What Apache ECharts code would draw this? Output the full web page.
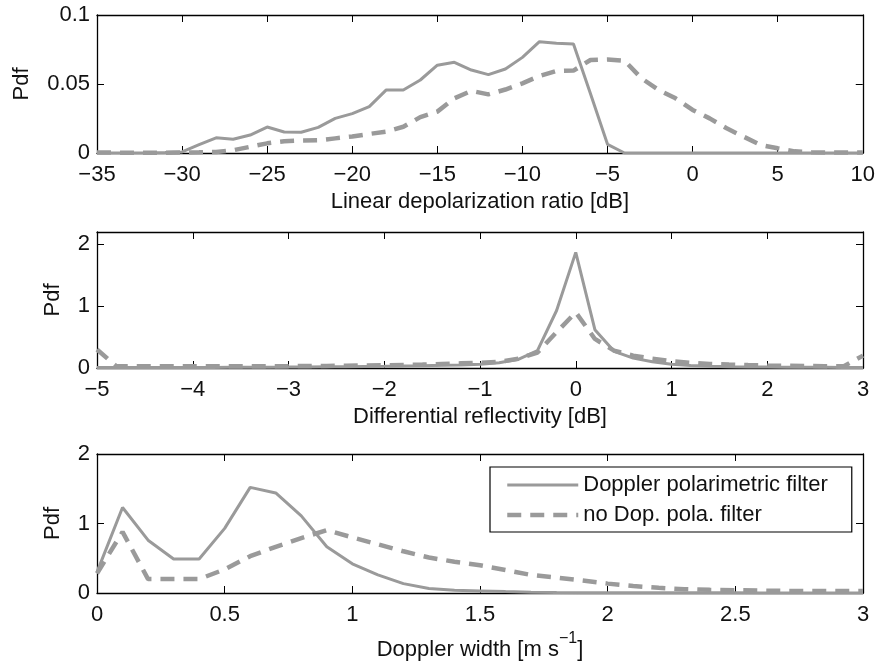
<!DOCTYPE html>
<html>
<head>
<meta charset="utf-8">
<script src="https://cdn.jsdelivr.net/npm/echarts@6/dist/echarts.min.js"></script>
<style>html,body{margin:0;padding:0;background:#fff}#c{width:878px;height:663px}</style>
</head>
<body>
<div id="c"></div>
<script>
// ---------- Data ----------
const seriesNames = ['Doppler polarimetric filter', 'no Dop. pola. filter'];

// Panel 1: Linear depolarization ratio [dB]
const ldrX = [-35,-34,-33,-32,-31,-30,-29,-28,-27,-26,-25,-24,-23,-22,-21,-20,-19,-18,-17,-16,-15,-14,-13,-12,-11,-10,-9,-8,-7,-6,-5,-4,-3,-2,-1,0,1,2,3,4,5,6,7,8,9,10];
const ldrFiltered = [0,0,0,0,0.0003,0.0008,0.006,0.011,0.010,0.013,0.0188,0.0152,0.0150,0.0186,0.0251,0.0285,0.0336,0.0457,0.0457,0.0529,0.0636,0.0657,0.0601,0.0568,0.0609,0.0693,0.0807,0.0795,0.079,0.043,0.0063,0,0,0,0,0,0,0,0,0,0,0,0,0,0,0];
const ldrAll = [0.0003,0.0003,0.0002,0.0002,0.0002,0.0003,0.0005,0.0008,0.002,0.0045,0.007,0.0085,0.009,0.0092,0.0106,0.012,0.0138,0.0155,0.019,0.026,0.030,0.0396,0.045,0.0425,0.046,0.0505,0.0558,0.0594,0.0597,0.0674,0.0678,0.0669,0.0541,0.0457,0.0396,0.0312,0.0251,0.0179,0.0118,0.0058,0.0034,0.0012,0.0006,0.0004,0.0003,0.0003];

// Panel 2: Differential reflectivity [dB]
const zdrX = [-5,-4.8,-4.6,-4.4,-4.2,-4,-3.8,-3.6,-3.4,-3.2,-3,-2.8,-2.6,-2.4,-2.2,-2,-1.8,-1.6,-1.4,-1.2,-1,-0.8,-0.6,-0.4,-0.2,0,0.2,0.4,0.6,0.8,1,1.2,1.4,1.6,1.8,2,2.2,2.4,2.6,2.8,3];
const zdrFiltered = [0.01,0.01,0.01,0.01,0.01,0.01,0.01,0.012,0.012,0.014,0.015,0.017,0.02,0.022,0.025,0.028,0.032,0.037,0.043,0.05,0.06,0.085,0.14,0.28,0.93,1.87,0.62,0.27,0.16,0.1,0.06,0.04,0.03,0.022,0.018,0.015,0.013,0.012,0.011,0.01,0.01];
const zdrAll = [0.3,0.03,0.03,0.03,0.03,0.03,0.03,0.03,0.03,0.03,0.03,0.032,0.034,0.036,0.04,0.045,0.05,0.055,0.065,0.075,0.085,0.1,0.15,0.25,0.58,0.9,0.47,0.28,0.2,0.15,0.11,0.085,0.065,0.055,0.047,0.04,0.035,0.032,0.03,0.03,0.2];

// Panel 3: Doppler width [m s^-1]
const dwX = [0,0.1,0.2,0.3,0.4,0.5,0.6,0.7,0.8,0.9,1.0,1.1,1.2,1.3,1.4,1.5,1.6,1.7,1.8,1.9,2.0,2.1,2.2,2.3,2.4,2.5,2.6,2.7,2.8,2.9,3.0];
const dwFiltered = [0.3,1.23,0.76,0.49,0.49,0.93,1.52,1.44,1.11,0.665,0.42,0.26,0.135,0.064,0.04,0.03,0.02,0.012,0.008,0.005,0.004,0.003,0.003,0.002,0.002,0.002,0.001,0.001,0.001,0.001,0.001];
const dwAll = [0.28,0.88,0.2,0.2,0.2,0.34,0.53,0.665,0.79,0.905,0.8,0.7,0.6,0.51,0.45,0.4,0.33,0.26,0.22,0.18,0.135,0.1,0.075,0.055,0.045,0.04,0.035,0.03,0.03,0.03,0.03];

// Axis settings
const xMin = [-35, -5, 0], xMax = [10, 3, 3], xInterval = [5, 1, 0.5];
const yMin = [0, 0, 0], yMax = [0.1, 2.2, 2], yInterval = [0.05, 1, 1];
const xNames = ['Linear depolarization ratio [dB]', 'Differential reflectivity [dB]', '{n|Doppler width [m s}{sup|\u22121}{n|]}'];
const yName = 'Pdf';

// ---------- Chart ----------
const FONT = 'Liberation Sans';
const FS = 22;
const TXT = '#111';
const LINE = '#9a9a9a';
const SOLID = {color: LINE, width: 3, type: 'solid'};
const DASHED = {color: LINE, width: 4.5, type: [14, 9]};
const grids = [
  {left: 97, top: 15, width: 766, height: 138},
  {left: 97, top: 232, width: 766, height: 136},
  {left: 97, top: 454, width: 766, height: 139}
];
const minusFmt = v => String(v).replace('-', '\u2212');
const axisLine = {show: true, onZero: false, lineStyle: {color: '#000', width: 1.3}};
const tick = {show: true, inside: true, length: 7, lineStyle: {color: '#000', width: 1}};

const xAxis = [], yAxis = [], series = [];
const sets = [[ldrX, ldrFiltered, ldrAll], [zdrX, zdrFiltered, zdrAll], [dwX, dwFiltered, dwAll]];
const yNameGap = [64, 33, 33];
const xNameGap = [38, 38, 38];

for (let i = 0; i < 3; i++) {
  xAxis.push({
    type: 'value', gridIndex: i, position: 'bottom', min: xMin[i], max: xMax[i], interval: xInterval[i],
    axisLine, axisTick: tick, splitLine: {show: false},
    axisLabel: {color: TXT, fontFamily: FONT, fontSize: FS, margin: 11, formatter: minusFmt},
    name: xNames[i], nameLocation: 'middle', nameGap: xNameGap[i],
    nameTextStyle: {color: TXT, fontFamily: FONT, fontSize: FS,
      rich: {
        n: {fontFamily: FONT, fontSize: FS, color: TXT, verticalAlign: 'bottom'},
        sup: {fontFamily: FONT, fontSize: 16, lineHeight: 30, color: TXT, verticalAlign: 'top'}
      }}
  });
  xAxis.push({
    type: 'value', gridIndex: i, position: 'top', min: xMin[i], max: xMax[i], interval: xInterval[i],
    axisLine, axisTick: tick, axisLabel: {show: false}, splitLine: {show: false}
  });
  yAxis.push({
    type: 'value', gridIndex: i, position: 'left', min: yMin[i], max: yMax[i], interval: yInterval[i],
    axisLine, axisTick: tick, splitLine: {show: false},
    axisLabel: {color: TXT, fontFamily: FONT, fontSize: FS, margin: 7, showMaxLabel: i !== 1, formatter: minusFmt},
    name: yName, nameLocation: 'middle', nameRotate: 90, nameGap: yNameGap[i],
    nameTextStyle: {color: TXT, fontFamily: FONT, fontSize: FS}
  });
  yAxis.push({
    type: 'value', gridIndex: i, position: 'right', min: yMin[i], max: yMax[i], interval: yInterval[i],
    axisLine, axisTick: tick, axisLabel: {show: false}, splitLine: {show: false}
  });
  const [xs, f, a] = sets[i];
  series.push({
    name: seriesNames[0], type: 'line', xAxisIndex: 2 * i, yAxisIndex: 2 * i,
    data: xs.map((x, k) => [x, f[k]]), symbol: 'none', smooth: false, z: 3,
    lineStyle: SOLID, itemStyle: {color: LINE}
  });
  series.push({
    name: seriesNames[1], type: 'line', xAxisIndex: 2 * i, yAxisIndex: 2 * i,
    data: xs.map((x, k) => [x, a[k]]), symbol: 'none', smooth: false, z: 2,
    lineStyle: DASHED, itemStyle: {color: LINE}
  });
}

const chart = echarts.init(document.getElementById('c'), null, {renderer: 'canvas'});
chart.setOption({
  animation: false,
  backgroundColor: '#fff',
  grid: grids,
  xAxis, yAxis, series,
  legend: {
    data: [
      {name: seriesNames[0], lineStyle: SOLID},
      {name: seriesNames[1], lineStyle: DASHED}
    ],
    orient: 'vertical', left: 490, top: 467,
    backgroundColor: '#fff', borderColor: '#000', borderWidth: 1.2,
    padding: [7, 24, 6, 15], itemWidth: 71, itemHeight: 14, itemGap: 8,
    textStyle: {color: TXT, fontFamily: FONT, fontSize: FS},
    itemStyle: {opacity: 0}
  }
});
</script>
</body>
</html>
